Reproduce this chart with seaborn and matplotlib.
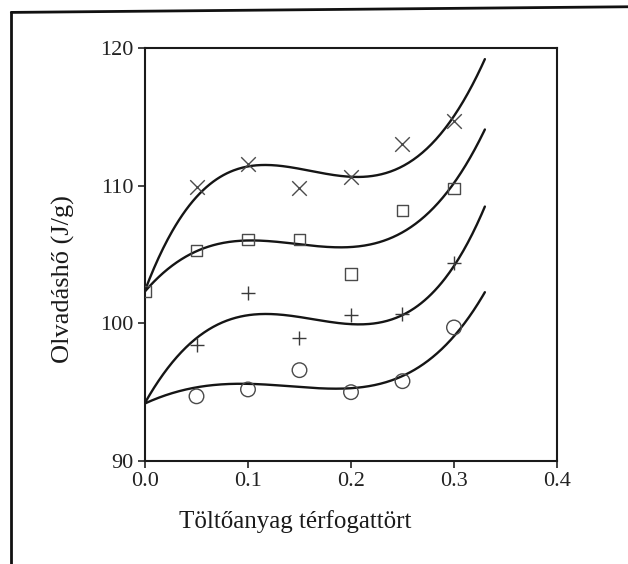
import numpy as np
import pandas as pd
import matplotlib
matplotlib.use("Agg")
import matplotlib.pyplot as plt
from matplotlib.lines import Line2D
import seaborn as sns

# Measured melting heat (J/g) against filler volume fraction, four series
x_meas = [0.05, 0.10, 0.15, 0.20, 0.25, 0.30]
cross_y = [109.9, 111.6, 109.8, 110.6, 113.0, 114.7]
square_x = [0.0, 0.05, 0.10, 0.15, 0.20, 0.25, 0.30]
square_y = [102.3, 105.3, 106.1, 106.1, 103.6, 108.2, 109.8]
plus_y = [98.4, 102.2, 98.9, 100.6, 100.7, 104.4]
circle_y = [94.7, 95.2, 96.6, 95.0, 95.8, 99.7]

# Trend-curve readings
curve_x = [0.0, 0.05, 0.10, 0.15, 0.20, 0.25, 0.30, 0.33]
cross_curve = [102.3, 109.5, 111.1, 111.15, 110.75, 111.7, 114.6, 119.4]
square_curve = [102.3, 105.3, 106.0, 105.7, 105.45, 106.9, 109.9, 114.2]
plus_curve = [94.2, 99.0, 100.6, 100.3, 100.0, 100.8, 103.9, 108.6]
circle_curve = [94.2, 95.3, 95.6, 95.5, 95.2, 96.1, 99.2, 102.2]

x_ticks = [0.0, 0.1, 0.2, 0.3, 0.4]
y_ticks = [90, 100, 110, 120]
x_label = "Töltőanyag térfogattört"
y_label = "Olvadáshő (J/g)"

sns.set_style("ticks")
plt.rcParams["font.family"] = ["Liberation Serif", "DejaVu Serif"]

fig = plt.figure(figsize=(6.28, 5.64), dpi=100)
ax = fig.add_axes([0.2309, 0.1826, 0.656, 0.7323])

# Smooth trend lines through the curve readings
grid = np.linspace(curve_x[0], curve_x[-1], 300)
for vals in (cross_curve, square_curve, plus_curve, circle_curve):
    coef = np.polyfit(curve_x, vals, 4)
    df = pd.DataFrame({"x": grid, "y": np.polyval(coef, grid)})
    sns.lineplot(data=df, x="x", y="y", ax=ax, color="#151515", linewidth=1.7)

sns.scatterplot(x=x_meas, y=cross_y, ax=ax, marker="x", s=110,
                color="#4a4a4a", linewidth=1.0, zorder=3)
sns.scatterplot(x=square_x, y=square_y, ax=ax, marker="s", s=70,
                facecolor="none", edgecolor="#4a4a4a", linewidth=1.0, zorder=3)
sns.scatterplot(x=x_meas, y=plus_y, ax=ax, marker="+", s=90,
                color="#3a3a3a", linewidth=1.0, zorder=3)
sns.scatterplot(x=x_meas, y=circle_y, ax=ax, marker="o", s=110,
                facecolor="none", edgecolor="#4a4a4a", linewidth=1.0, zorder=3)

ax.set_xlim(0.0, 0.4)
ax.set_ylim(90, 120)
ax.set_xticks(x_ticks)
ax.set_xticklabels([f"{v:.1f}" for v in x_ticks])
ax.set_yticks(y_ticks)
ax.set_yticklabels([str(v) for v in y_ticks])
ax.tick_params(direction="out", length=5, width=1.2, labelsize=16,
               colors="#222222", pad=3)
for side in ("left", "right", "top", "bottom"):
    ax.spines[side].set_linewidth(1.5)
    ax.spines[side].set_color("#1a1a1a")

ax.set_xlabel(x_label, fontsize=18, color="#1a1a1a")
ax.set_ylabel(y_label, fontsize=19, color="#1a1a1a")
ax.xaxis.set_label_coords(0.364, -0.118)
ax.yaxis.set_label_coords(-0.17, 0.44)

# Surrounding box lines of the panel
fig.add_artist(Line2D([0.018, 1.0], [0.978, 0.988], transform=fig.transFigure,
                      color="#111111", linewidth=2.0))
fig.add_artist(Line2D([0.018, 0.018], [0.0, 0.978], transform=fig.transFigure,
                      color="#111111", linewidth=2.0))

fig.savefig("out.png", dpi=100, facecolor="white")
